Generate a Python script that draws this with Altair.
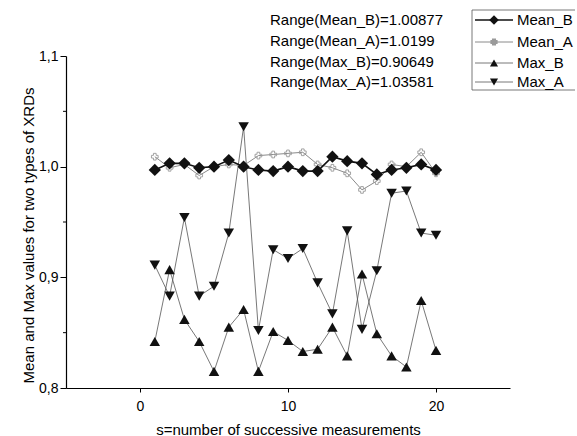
import altair as alt
import pandas as pd

s = list(range(1, 21))
mean_b = [0.997, 1.003, 1.003, 0.999, 1.000, 1.006, 1.000, 0.997, 0.996, 1.000,
          0.996, 0.996, 1.009, 1.005, 1.003, 0.993, 0.997, 0.999, 1.002, 0.997]
mean_a = [1.009, 0.999, 1.002, 0.992, 1.000, 1.002, 1.001, 1.010, 1.011, 1.012,
          1.013, 1.002, 0.999, 0.994, 0.979, 0.987, 1.002, 1.000, 1.013, 0.994]
max_b = [0.842, 0.907, 0.862, 0.842, 0.815, 0.855, 0.871, 0.815, 0.851, 0.843,
         0.833, 0.835, 0.855, 0.829, 0.903, 0.849, 0.829, 0.819, 0.879, 0.834]
max_a = [0.911, 0.883, 0.954, 0.883, 0.892, 0.940, 1.036, 0.852, 0.925, 0.917,
         0.926, 0.895, 0.867, 0.942, 0.853, 0.906, 0.976, 0.978, 0.940, 0.938]

series_names = ["Mean_B", "Mean_A", "Max_B", "Max_A"]
annotations = ["Range(Mean_B)=1.00877", "Range(Mean_A)=1.0199",
               "Range(Max_B)=0.90649", "Range(Max_A)=1.03581"]
y_ticks = [0.8, 0.9, 1.0, 1.1]
y_minor = [0.85, 0.95, 1.05]
x_ticks = [0, 10, 20]

rows = []
for name, vals in zip(series_names, [mean_b, mean_a, max_b, max_a]):
    for xi, v in zip(s, vals):
        rows.append({"s": xi, "value": v, "series": name})
df = pd.DataFrame(rows)

FONT = "Liberation Sans"
W, H = 444, 332

styles = {
    "Mean_B": dict(shape="diamond", size=150, filled=True, lc="#111111", lw=1.6, mc="#111111"),
    "Mean_A": dict(shape="cross", size=45, filled=False, lc="#8a8a8a", lw=1.0, mc="#9a9a9a"),
    "Max_B": dict(shape="triangle-up", size=110, filled=True, lc="#555555", lw=0.8, mc="#111111"),
    "Max_A": dict(shape="triangle-down", size=110, filled=True, lc="#555555", lw=0.8, mc="#111111"),
}

xscale = alt.Scale(domain=[-5, 25], nice=False, zero=False)
yscale = alt.Scale(domain=[0.8, 1.1], nice=False, zero=False)

X_TITLE = "s=number of successive measurements"
Y_TITLE = "Mean and Max values for two types of XRDs"

common_axis = dict(grid=False, labelFont=FONT, titleFont=FONT, labelColor="black",
                   titleColor="black", domainColor="black", tickColor="black",
                   titleFontWeight="normal", domainWidth=1.2, tickWidth=1,
                   labelFontSize=14, titleFontSize=15)
xaxis = alt.Axis(values=x_ticks, title=X_TITLE, tickSize=4, labelPadding=7,
                 titlePadding=9, **common_axis)
yaxis = alt.Axis(values=y_ticks, title=Y_TITLE, tickSize=6, labelPadding=2,
                 titlePadding=2, titleY=179,
                 labelExpr="replace(format(datum.value, '.1f'), '.', ',')",
                 **common_axis)

enc_x = alt.X("s:Q", scale=xscale, axis=xaxis, title=X_TITLE)
enc_y = alt.Y("value:Q", scale=yscale, axis=yaxis, title=Y_TITLE)

base = alt.Chart(df)
layers = []
for name in ["Max_A", "Max_B", "Mean_A", "Mean_B"]:
    st = styles[name]
    sub = base.transform_filter(alt.datum.series == name)
    line = sub.mark_line(color=st["lc"], strokeWidth=st["lw"]).encode(x=enc_x, y=enc_y)
    if st["filled"]:
        pts = sub.mark_point(shape=st["shape"], size=st["size"], filled=True,
                             color=st["mc"], opacity=1).encode(x=enc_x, y=enc_y)
    else:
        pts = sub.mark_point(shape=st["shape"], size=st["size"], filled=False,
                             color=st["mc"], strokeWidth=0.9, opacity=1).encode(x=enc_x, y=enc_y)
    layers += [line, pts]

# minor y ticks
minor_df = pd.DataFrame({"value": y_minor})
minor = alt.Chart(minor_df).mark_rule(color="black", strokeWidth=1).encode(
    y=enc_y, x=alt.value(-3), x2=alt.value(0))
layers.append(minor)

one = pd.DataFrame({"a": [0]})
ann_y = [-36, -15, 6, 26]
for txt, yy in zip(annotations, ann_y):
    layers.append(alt.Chart(one).mark_text(text=txt, align="left", baseline="middle",
                                           font=FONT, fontSize=15, color="black")
                  .encode(x=alt.value(204), y=alt.value(yy)))

# legend box (right side runs off the page)
layers.append(alt.Chart(one).mark_rect(fill="white", strokeWidth=0)
              .encode(x=alt.value(406), x2=alt.value(509), y=alt.value(-46), y2=alt.value(34)))
for (xa, xb, ya, yb) in [(406, 509, -46, -46), (406, 509, 34, 34), (406, 406, -46, 34)]:
    layers.append(alt.Chart(one).mark_rule(color="#555555", strokeWidth=0.8)
                  .encode(x=alt.value(xa), x2=alt.value(xb), y=alt.value(ya), y2=alt.value(yb)))
leg_y = [-36, -14, 7, 26]
for name, yy in zip(series_names, leg_y):
    st = styles[name]
    layers.append(alt.Chart(one).mark_rule(color=st["lc"], strokeWidth=st["lw"])
                  .encode(x=alt.value(409), x2=alt.value(447), y=alt.value(yy)))
    layers.append(alt.Chart(one).mark_point(shape=st["shape"], size=st["size"] * 0.6,
                                            filled=st["filled"], color=st["mc"], opacity=1)
                  .encode(x=alt.value(428), y=alt.value(yy)))
    layers.append(alt.Chart(one).mark_text(text=name, align="left", baseline="middle",
                                           font=FONT, fontSize=15, color="black")
                  .encode(x=alt.value(451), y=alt.value(yy)))

chart = alt.layer(*layers).properties(
    width=W, height=H,
    background="white",
    autosize=alt.AutoSizeParams(type="none"),
    padding={"left": 66, "top": 56, "right": 67, "bottom": 48},
).configure_view(strokeWidth=0, stroke="transparent")

chart.save("out.html", embed_options={"renderer": "svg", "actions": False})
